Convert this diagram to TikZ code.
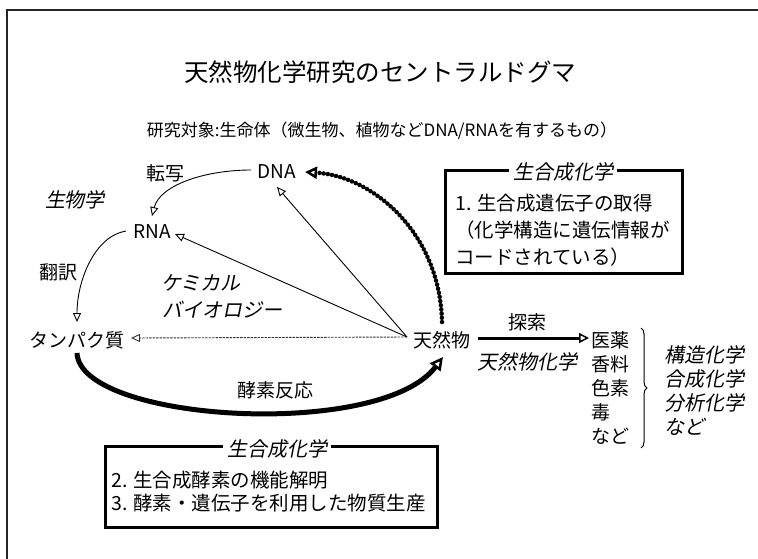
\documentclass[tikz,border=0pt]{standalone}
\usepackage{fontspec}
\setmainfont{Noto Sans CJK JP}
\newfontfamily\jpit[FakeSlant=0.2]{Noto Sans CJK JP}
\usetikzlibrary{arrows.meta,decorations.pathreplacing,calc}
\tikzset{
  lbl/.style={font=\fontsize{19}{22}\selectfont, inner sep=1pt},
  itl/.style={font=\jpit\fontsize{20}{23}\selectfont, inner sep=1pt},
  titlestyle/.style={font=\fontsize{24.5}{28}\selectfont, inner sep=1pt},
  substyle/.style={font=\fontsize{17}{20}\selectfont, inner sep=1pt},
  boxtxt/.style={font=\fontsize{19.5}{22}\selectfont, inner sep=0pt, anchor=west},
  thinarrow/.style={line width=0.9pt, -{Triangle[open,length=9pt,width=8pt,line width=0.9pt]}},
  dashedarrow/.style={line width=0.9pt, dash pattern=on 2.5pt off 1pt, -{Triangle[open,length=9pt,width=8pt,line width=0.9pt]}},
  beadarrow/.style={line width=4.5pt, line cap=round, dash pattern=on 0pt off 4.2pt, -{Triangle[open,length=12pt,width=12pt,line width=2.5pt]}},
  heavyarrow/.style={line width=5pt, -{Triangle[open,length=13pt,width=13pt,line width=2.5pt]}},
  searcharrow/.style={line width=3pt, -{Triangle[open,length=10pt,width=10pt,line width=1.5pt]}},
  boxframe/.style={draw, line width=3pt},
  boxtitle/.style={itl, fill=white, inner xsep=4pt},
}
\begin{document}
\begin{tikzpicture}[x=1pt,y=-1pt]
\useasboundingbox (0,0) rectangle (758,558);
% outer frame
\draw[black!85, line width=2pt] (7,560) -- (7,10) -- (760,10);

% titles
\node[titlestyle] (title) at (380,72) {天然物化学研究のセントラルドグマ};
\node[substyle] (sub) at (382,131) {研究対象:生命体（微生物、植物などDNA/RNAを有するもの）};

% main nodes
\node[lbl] (dna) at (277,172) {DNA};
\node[lbl] (rna) at (152,232) {RNA};
\node[lbl] (prot) at (77,340) {タンパク質};
\node[lbl] (nat) at (442,340) {天然物};

% labels
\node[lbl] (tensha) at (165,173) {転写};
\node[lbl] (honyaku) at (58,272) {翻訳};
\node[itl] (seibutsu) at (75,200) {生物学};
\node[itl] (chem1) at (201,283) {ケミカル};
\node[itl] (chem2) at (222,310) {バイオロジー};
\node[lbl] (tansaku) at (527,322) {探索};
\node[itl] (tnk) at (527,362) {天然物化学};
\node[lbl] (kouso) at (275,390) {酵素反応};

% product list
\node[lbl, anchor=west] (l1) at (590,340) {医薬};
\node[lbl, anchor=west] (l2) at (590,364) {香料};
\node[lbl, anchor=west] (l3) at (590,388) {色素};
\node[lbl, anchor=west] (l4) at (590,412) {毒};
\node[lbl, anchor=west] (l5) at (590,436) {など};

% fields list
\node[itl, anchor=west] (f1) at (663,355) {構造化学};
\node[itl, anchor=west] (f2) at (663,379) {合成化学};
\node[itl, anchor=west] (f3) at (663,403) {分析化学};
\node[itl, anchor=west] (f4) at (663,427) {など};

% brace
\coordinate (brtop) at (641,328);
\coordinate (brbot) at (641,448);
\draw[line width=1pt, decorate, decoration={brace, amplitude=6pt}] (brtop) -- (brbot);

% connector end points
\coordinate (src) at (407,337);
\coordinate (dnatip) at (277,187);
\coordinate (rnatip) at (175,234);
\coordinate (prottip) at (131,338);
\coordinate (dnaleft) at (251,170);
\coordinate (rnatop) at (152,216);
\coordinate (rnaleft) at (126,231);
\coordinate (protop) at (77,322);
\coordinate (natup) at (442,322);
\coordinate (dnaright) at (305,172);
\coordinate (protbot) at (77,353);
\coordinate (natbot) at (443,357);
\coordinate (natright) at (478,338);
\coordinate (medleft) at (589,338);

% biology arrows
\draw[thinarrow] (dnaleft) .. controls (205,170) and (160,185) .. (rnatop);
\draw[thinarrow] (rnaleft) .. controls (95,236) and (77,280) .. (protop);

% chemical biology arrows
\draw[thinarrow] (src) -- (dnatip);
\draw[thinarrow] (src) -- (rnatip);
\draw[dashedarrow, black!80] (src) -- (prottip);

% biosynthesis (dotted thick) to DNA
\draw[beadarrow] (natup) .. controls (440,232) and (372,176) .. (dnaright);

% enzyme reaction arc
\draw[heavyarrow] (protbot) .. controls (80,422) and (380,440) .. (natbot);

% search arrow
\draw[searcharrow] (natright) -- (medleft);

% top-right box
\draw[boxframe] (445,170) rectangle (682,273);
\node[boxtitle] (bt1) at (563,172) {生合成化学};
\node[boxtxt] (b1a) at (455,203) {1. 生合成遺伝子の取得};
\node[boxtxt] (b1b) at (455,230) {（化学構造に遺伝情報が};
\node[boxtxt] (b1c) at (455,257) {コードされている）};

% bottom box
\draw[boxframe] (105,446) rectangle (437,527);
\node[boxtitle] (bt2) at (277,449) {生合成化学};
\node[boxtxt] (b2a) at (111,480) {2. 生合成酵素の機能解明};
\node[boxtxt] (b2b) at (111,503) {3. 酵素・遺伝子を利用した物質生産};
\end{tikzpicture}
\end{document}
